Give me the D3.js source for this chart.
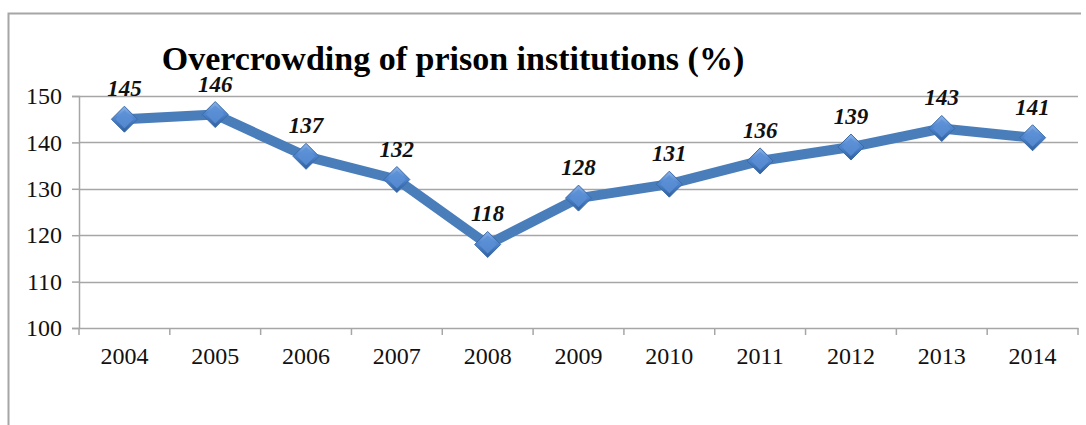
<!DOCTYPE html>
<html>
<head>
<meta charset="utf-8">
<script src="https://cdn.jsdelivr.net/npm/d3@7"></script>
<style>
  body { margin: 0; background: #fff; }
  svg text { font-family: "Liberation Serif", "DejaVu Serif", serif; }
</style>
</head>
<body>
<div id="chart"></div>
<script>
const years = ["2004", "2005", "2006", "2007", "2008", "2009", "2010", "2011", "2012", "2013", "2014"];
const overcrowding = [145, 146, 137, 132, 118, 128, 131, 136, 139, 143, 141];
const yTicks = [100, 110, 120, 130, 140, 150];
const title = "Overcrowding of prison institutions (%)";

const width = 1086, height = 425;
const margin = { top: 96, right: 8, bottom: 97, left: 79 };
const innerW = width - margin.left - margin.right;
const innerH = height - margin.top - margin.bottom;

const svg = d3.select("#chart").append("svg")
  .attr("width", width)
  .attr("height", height);

// outer frame (top and left edges only visible)
svg.append("path")
  .attr("d", `M8.5,${height} L8.5,13.5 L1081,13.5`)
  .attr("fill", "none")
  .attr("stroke", "#a6a6a6")
  .attr("stroke-width", 2);

const defs = svg.append("defs");
const grad = defs.append("linearGradient")
  .attr("id", "diamondGrad")
  .attr("x1", "0").attr("y1", "0").attr("x2", "0").attr("y2", "1");
grad.append("stop").attr("offset", "0%").attr("stop-color", "#8db3e8");
grad.append("stop").attr("offset", "45%").attr("stop-color", "#4f86cf");
grad.append("stop").attr("offset", "100%").attr("stop-color", "#2f5f9e");

const g = svg.append("g").attr("transform", `translate(${margin.left},${margin.top})`);

const x = d3.scaleBand().domain(years).range([0, innerW]);
const y = d3.scaleLinear().domain([100, 150]).range([innerH, 0]);

// gridlines
g.append("g")
  .selectAll("line")
  .data(yTicks.filter(t => t !== 100))
  .join("line")
  .attr("x1", 0).attr("x2", innerW)
  .attr("y1", d => Math.round(y(d)) + 0.5)
  .attr("y2", d => Math.round(y(d)) + 0.5)
  .attr("stroke", "#a6a6a6")
  .attr("stroke-width", 1.5);

// y axis
const yAxis = g.append("g")
  .call(d3.axisLeft(y).tickValues(yTicks).tickSize(7).tickPadding(10));
yAxis.attr("font-family", null);
yAxis.select(".domain").attr("stroke", "#a6a6a6").attr("stroke-width", 1.5);
yAxis.selectAll(".tick line").attr("stroke", "#a6a6a6").attr("stroke-width", 1.5);
yAxis.selectAll(".tick text")
  .style("font-size", "24px")
  .attr("fill", "#111");

// x axis with ticks at band boundaries
const xAxis = g.append("g")
  .attr("transform", `translate(0,${innerH})`)
  .call(d3.axisBottom(x).tickSize(0).tickPadding(19));
xAxis.attr("font-family", null);
xAxis.select(".domain").attr("stroke", "#a6a6a6").attr("stroke-width", 1.5);
xAxis.selectAll(".tick text")
  .style("font-size", "24px")
  .attr("fill", "#111");

const boundaries = years.map(d => x(d)).concat([innerW]);
g.append("g")
  .attr("transform", `translate(0,${innerH})`)
  .selectAll("line")
  .data(boundaries)
  .join("line")
  .attr("x1", d => d).attr("x2", d => d)
  .attr("y1", 0).attr("y2", 7)
  .attr("stroke", "#a6a6a6")
  .attr("stroke-width", 1.5);

const cx = d => x(d) + x.bandwidth() / 2;
const pts = years.map((d, i) => [cx(d), y(overcrowding[i])]);

// line
g.append("path")
  .datum(pts)
  .attr("d", d3.line())
  .attr("fill", "none")
  .attr("stroke", "#4a7ebb")
  .attr("stroke-width", 10)
  .attr("stroke-linejoin", "round");

// diamond markers
const markers = g.append("g")
  .selectAll("g")
  .data(pts)
  .join("g")
  .attr("transform", d => `translate(${d[0]},${d[1]})`);
markers.append("path")
  .attr("d", "M0,-13 L13,0 L0,13 L-13,0 Z")
  .attr("fill", "url(#diamondGrad)")
  .attr("stroke", "#3a6aa8")
  .attr("stroke-width", 1);
markers.append("path")
  .attr("d", "M0,-9 L9,0 L0,9 L-9,0 Z")
  .attr("fill", "#5b90d6")
  .attr("opacity", 0.8);

// data labels
g.append("g")
  .selectAll("text")
  .data(pts)
  .join("text")
  .attr("x", d => d[0])
  .attr("y", d => d[1] - 23)
  .attr("text-anchor", "middle")
  .style("font-size", "23px")
  .style("font-weight", "bold")
  .style("font-style", "italic")
  .attr("fill", "#111")
  .text((d, i) => overcrowding[i]);

// title
svg.append("text")
  .attr("x", 453)
  .attr("y", 70)
  .attr("text-anchor", "middle")
  .style("font-size", "34px")
  .style("font-weight", "bold")
  .attr("fill", "#000")
  .text(title);
</script>
</body>
</html>
